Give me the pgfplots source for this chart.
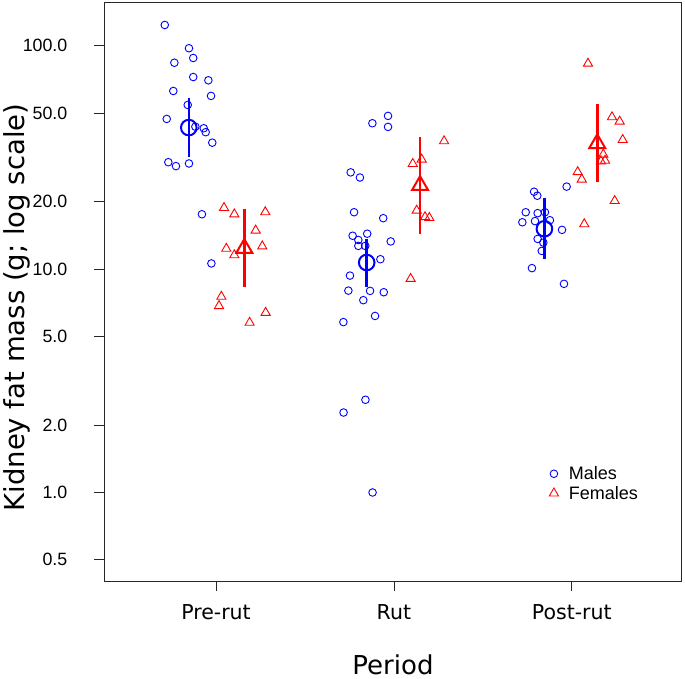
\documentclass[border=0pt]{standalone}
\usepackage{pgfplots}
\pgfplotsset{compat=1.18}
\usepackage{fontspec}
\newfontfamily\arialf{Liberation Sans}
\newfontfamily\dejavu{DejaVu Sans}
\begin{document}
\begin{tikzpicture}
\path[use as bounding box] (-104.5pt,-98pt) rectangle (580.5pt,581pt);
\begin{axis}[
  scale only axis,
  width=577pt, height=579pt,
  at={(0,0)}, anchor=south west,
  ymode=log,
  xmin=0.3732, xmax=3.6166,
  ymin=0.4016, ymax=156.9,
  xtick={1,2,3},
  xticklabels={Pre-rut,Rut,Post-rut},
  ytick={0.5,1,2,5,10,20,50,100},
  yticklabels={0.5,1.0,2.0,5.0,10.0,20.0,50.0,100.0},
  minor ytick={},
  tick align=outside,
  major tick length=10pt,
  xtick pos=left, ytick pos=left,
  axis line style={black!85, line width=0.8pt},
  every tick/.style={black!85, line width=0.8pt},
  xticklabel style={font=\dejavu\fontsize{20.5}{20.5}\selectfont, anchor=base, yshift=-29pt, inner sep=0pt},
  yticklabel style={font=\arialf\fontsize{17.8}{17.8}\selectfont, anchor=east, xshift=-27pt, inner sep=0pt},
  xlabel={Period},
  ylabel={Kidney fat mass (g; log scale)},
  every axis x label/.style={at={(axis description cs:0.5,0)}, anchor=base, yshift=-93pt, inner sep=0pt, font=\dejavu\fontsize{26}{26}\selectfont},
  every axis y label/.style={at={(axis description cs:-0.1378,0.4724)}, rotate=90, anchor=base, inner sep=0pt, font=\dejavu\fontsize{27.5}{27.5}\selectfont},
  legend image code/.code={\path[draw=none,fill=none] (0pt,0pt) -- (17pt,0pt); \draw[#1] plot coordinates {(4pt,0pt)};},
  legend style={draw=none, fill=none, at={(rel axis cs:0.7654,0.205)}, anchor=north west,
    font=\arialf\fontsize{18}{18}\selectfont, row sep=1pt},
  legend cell align=left,
  clip=false,
]
% Males
\addplot[only marks, mark=o, blue, mark size=3.8pt, line width=0.9pt] coordinates {
(0.712,123.8) (0.848,97.4) (0.872,88.1) (0.766,83.9) (0.872,72.4) (0.957,70.0) (0.760,62.7)
(0.972,59.6) (0.841,54.3) (0.723,47.0) (0.884,43.4) (0.931,42.7) (0.942,41.0) (0.979,36.8)
(0.732,30.1) (0.775,28.9) (0.848,29.7) (0.921,17.6) (0.974,10.6)
(1.967,48.5) (1.879,44.96) (1.967,43.3) (1.757,27.1) (1.809,25.7) (1.776,17.97) (1.940,16.9)
(1.768,14.1) (1.850,14.4) (1.800,13.5) (1.839,12.7) (1.800,12.7) (1.982,13.3) (1.924,11.07)
(1.753,9.35) (1.744,8.01) (1.866,7.99) (1.943,7.88) (1.828,7.26) (1.894,6.17) (1.716,5.79)
(1.717,2.28) (1.840,2.60) (1.880,1.00)
(2.971,23.4) (2.788,22.2) (2.806,21.3) (2.741,17.97) (2.808,17.8) (2.849,17.97) (2.722,16.2)
(2.793,16.4) (2.877,16.55) (2.945,14.98) (2.808,13.65) (2.840,13.14) (2.831,12.06) (2.776,10.1)
(2.956,8.59)
};
\addlegendentry{Males}
% Females
\addplot[only marks, mark=triangle, red, mark size=5.3pt, line width=0.9pt] coordinates {
(1.045,18.8) (1.103,17.6) (1.277,18.0) (1.223,14.9) (1.058,12.35) (1.260,12.65) (1.103,11.55)
(1.030,7.53) (1.017,6.84) (1.189,5.76) (1.279,6.38)
(2.282,37.4) (2.106,29.6) (2.156,30.96) (2.128,18.3) (2.175,17.1) (2.199,16.96) (2.094,9.05)
(3.091,83.2) (3.226,47.9) (3.269,45.8) (3.286,37.9) (3.177,32.6) (3.187,30.6) (3.164,30.4)
(3.033,27.2) (3.056,25.2) (3.241,20.2) (3.070,15.9)
};
\addlegendentry{Females}
% Error bars (males)
\addplot[blue, line width=2.5pt, forget plot] coordinates {(0.847,31.7) (0.847,58.2)};
\addplot[blue, line width=2.5pt, forget plot] coordinates {(1.847,8.35) (1.847,13.65)};
\addplot[blue, line width=2.5pt, forget plot] coordinates {(2.846,11.1) (2.846,20.9)};
% Error bars (females)
\addplot[red, line width=2.5pt, forget plot] coordinates {(1.159,8.31) (1.159,18.55)};
\addplot[red, line width=2.5pt, forget plot] coordinates {(2.147,14.4) (2.147,39.2)};
\addplot[red, line width=2.5pt, forget plot] coordinates {(3.143,24.5) (3.143,54.7)};
% Means
\addplot[only marks, mark=o, blue, mark size=7.8pt, line width=2pt, forget plot] coordinates {
(0.847,43.0) (1.847,10.7) (2.846,15.15)};
\addplot[only marks, mark=triangle, red, mark size=9.2pt, line width=2pt, forget plot] coordinates {
(1.159,12.4) (2.147,23.7) (3.143,36.5)};
\end{axis}
\end{tikzpicture}
\end{document}
